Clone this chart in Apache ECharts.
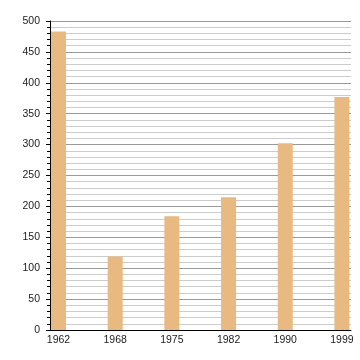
<!DOCTYPE html>
<html>
<head>
<meta charset="utf-8">
<script src="https://cdn.jsdelivr.net/npm/echarts@6/dist/echarts.min.js"></script>
<style>html,body{margin:0;padding:0;background:#fff}#c{width:360px;height:360px}</style>
</head>
<body>
<div id="c"></div>
<script>
const categories = ['1962', '1968', '1975', '1982', '1990', '1999'];
const values = [483, 119, 184, 215, 302, 377];
const yTicks = [0, 50, 100, 150, 200, 250, 300, 350, 400, 450, 500];

const chart = echarts.init(document.getElementById('c'), null, {renderer: 'canvas'});
const font = 'Liberation Sans, Arial, sans-serif';
chart.setOption({
  animation: false,
  backgroundColor: '#fff',
  grid: {left: 50, right: 9, top: 21, bottom: 30, containLabel: false},
  xAxis: {
    type: 'value',
    min: -0.15,
    max: 5.16,
    axisLine: {show: true, onZero: false, lineStyle: {color: '#000', width: 1}},
    axisTick: {show: false},
    splitLine: {show: false},
    axisLabel: {
      customValues: categories.map((c, i) => i),
      formatter: v => categories[Math.round(v)],
      fontFamily: font, fontSize: 10.5, color: '#222', margin: 5
    }
  },
  yAxis: {
    type: 'value',
    min: yTicks[0],
    max: yTicks[yTicks.length - 1],
    interval: 50,
    axisLine: {show: true, onZero: false, lineStyle: {color: '#000', width: 1}},
    axisTick: {show: true, length: 4, lineStyle: {color: '#000'}},
    minorTick: {show: true, splitNumber: 5, length: 3, lineStyle: {color: '#000'}},
    splitLine: {show: true, lineStyle: {color: '#999', width: 1}},
    minorSplitLine: {show: true, lineStyle: {color: '#ccc', width: 1}},
    axisLabel: {fontFamily: font, fontSize: 10.5, color: '#222', margin: 10}
  },
  series: [{
    type: 'bar',
    barWidth: 15,
    data: values.map((v, i) => [i, v]),
    itemStyle: {color: '#e8b981'}
  }]
});
</script>
</body>
</html>
